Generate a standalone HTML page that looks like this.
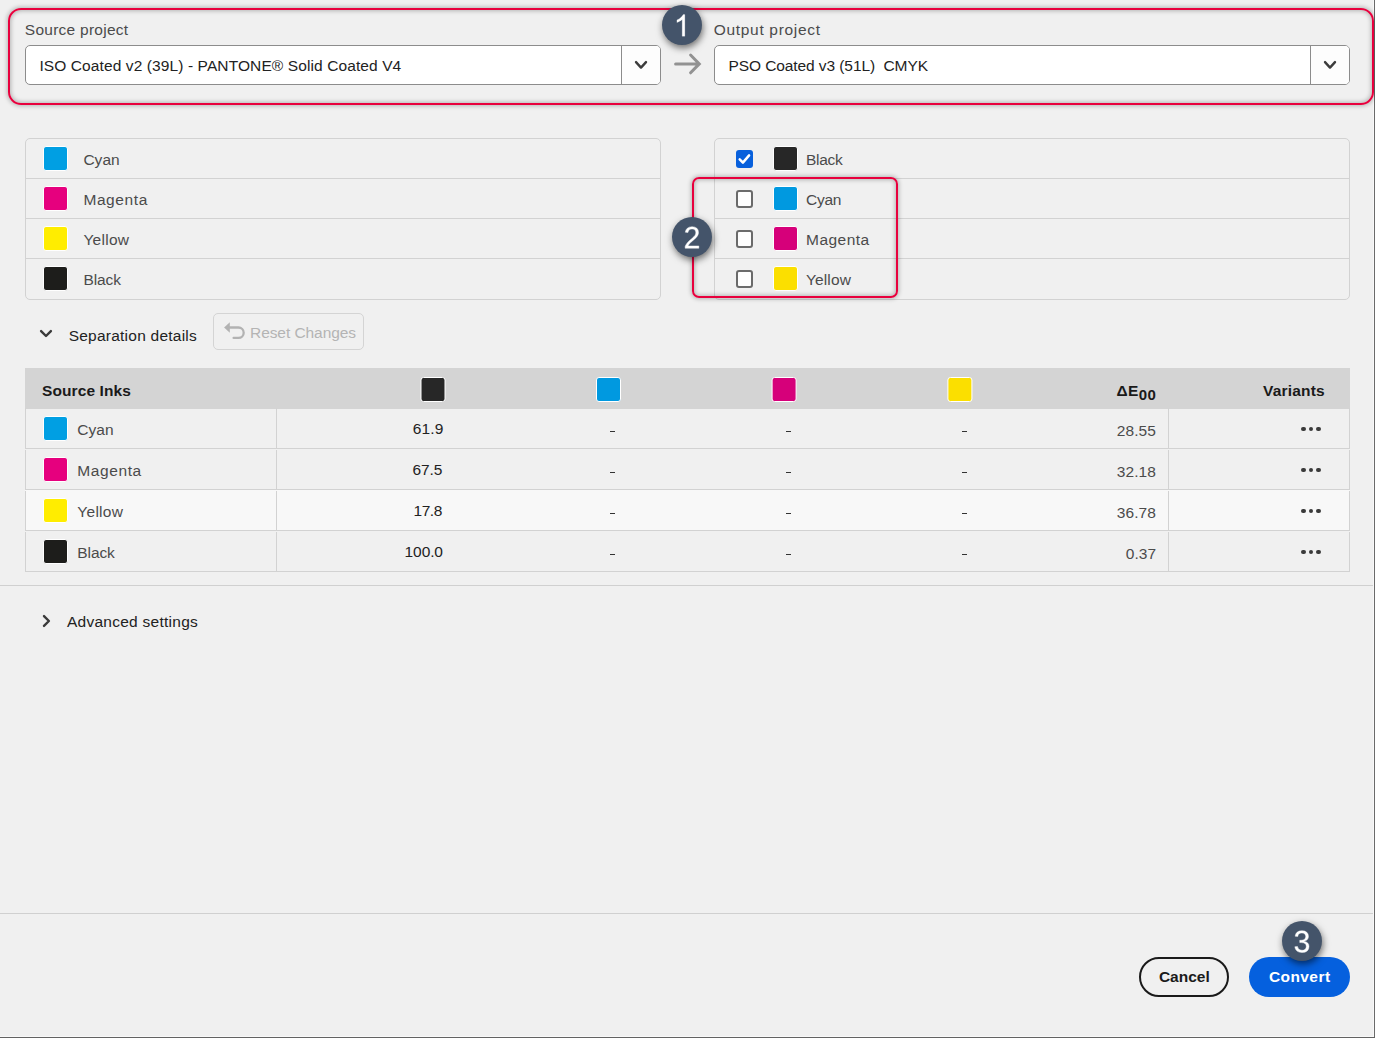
<!DOCTYPE html>
<html><head><meta charset="utf-8"><title>Convert</title>
<style>
*{box-sizing:border-box;margin:0;padding:0}
html,body{width:1375px;height:1038px;overflow:hidden}
body{position:relative;background:#f0f0f0;font-family:"Liberation Sans",sans-serif;}
.a{position:absolute}
.t{position:absolute;white-space:nowrap;line-height:20px;font-family:"Liberation Sans",sans-serif;}
.redbox{position:absolute;border:2px solid #e8003d;box-shadow:0 0 4px 1px rgba(0,0,0,.25), inset 0 0 4px 1px rgba(0,0,0,.25);}
.sel{position:absolute;height:40px;width:636px;top:45px;background:#fff;border:1px solid #8c8c8c;border-radius:5px;}
.sel .dd{position:absolute;right:0;top:0;bottom:0;width:39px;border-left:1px solid #8c8c8c;background:#fdfdfd;border-radius:0 4px 4px 0}
.list{position:absolute;top:138px;width:636px;height:162px;border:1px solid #d2d2d2;border-radius:5px;}
.list .sep{position:absolute;left:0;right:0;height:1px;background:#d2d2d2}
.sw{position:absolute;width:25px;height:25px;border:1px solid #fff;border-radius:3px;}
.cb{position:absolute;width:17px;height:18px;border:2px solid #6a6a6a;border-radius:3px;background:#fdfdfd}
.cb.on{border:0;background:#0860dc}
.badge{position:absolute;width:40px;height:40px;border-radius:50%;background:#44546a;box-shadow:1px 3px 7px rgba(0,0,0,.55);color:#fff;font-size:30px;line-height:40px;text-align:center;font-family:"Liberation Sans",sans-serif;}
.hl{position:absolute;left:0;width:1373px;height:1px;background:#d0d0d0}
.th{position:absolute;left:25px;top:368px;width:1325px;height:41px;background:#d4d4d4}
.row{position:absolute;left:25px;width:1325px;height:41px;border-left:1px solid #d2d2d2;border-right:1px solid #d2d2d2;border-bottom:1px solid #d2d2d2}
.row .v1{position:absolute;left:250px;top:0;bottom:0;width:1px;background:#d2d2d2}
.row .v2{position:absolute;left:1142px;top:0;bottom:0;width:1px;background:#d2d2d2}
.dash{position:absolute;width:5px;height:1.4px;background:#333}
.dots{position:absolute;width:20px;height:4px}
.dots i{position:absolute;top:-0.25px;width:4.5px;height:4.5px;border-radius:50%;background:#3a3a3a}
.btn{position:absolute;top:957px;height:40px;border-radius:20px}
.dg{display:block;width:40px;height:40px;transform-origin:50% 30.2px;transform:translateY(1.6px) scaleY(1.017)}

</style></head>
<body>
<!-- window edges -->
<div class="a" style="left:1373px;top:0;width:1px;height:1037px;background:#f8f8f8"></div>
<div class="a" style="left:1374px;top:0;width:1px;height:1038px;background:#6a6a6a"></div>
<div class="a" style="left:0;top:1036px;width:1374px;height:1px;background:#f8f8f8"></div>
<div class="a" style="left:0;top:1037px;width:1375px;height:1px;background:#626262"></div>

<!-- red box 1 -->
<div class="redbox" style="left:8px;top:8px;width:1366px;height:97px;border-radius:13px"></div>

<!-- selectors -->
<div class="sel" style="left:25px"><div class="dd"></div></div>
<div class="sel" style="left:714px"><div class="dd"></div></div>
<svg class="a" style="left:633px;top:58px" width="16" height="14" viewBox="0 0 16 14"><path d="M3 4.1 L8 9.6 L13 4.1" fill="none" stroke="#3c3c3c" stroke-width="2.4" stroke-linecap="round" stroke-linejoin="round"/></svg>
<svg class="a" style="left:1322px;top:58px" width="16" height="14" viewBox="0 0 16 14"><path d="M3 4.1 L8 9.6 L13 4.1" fill="none" stroke="#3c3c3c" stroke-width="2.4" stroke-linecap="round" stroke-linejoin="round"/></svg>
<!-- arrow -->
<svg class="a" style="left:672px;top:50px" width="32" height="28" viewBox="0 0 32 28"><path d="M3.6 13.9 H26.6 M18.6 5 L27.3 13.9 L18.6 22.8" fill="none" stroke="#929292" stroke-width="3" stroke-linecap="round" stroke-linejoin="miter"/></svg>
<div class="badge" style="left:662px;top:5px"><svg width="40" height="40" viewBox="0 0 40 40" style="display:block"><path transform="translate(11.66,31.2) scale(0.01465,-0.01465)" fill="#fff" stroke="#fff" stroke-width="14" d="M763 0H583V1147Q518 1085 412.5 1023T223 930V1104Q375 1175.5 488.5 1277T650 1474H763Z"/></svg></div>

<!-- left list -->
<div class="list" style="left:25px">
  <div class="sep" style="top:39px"></div><div class="sep" style="top:79px"></div><div class="sep" style="top:119px"></div>
</div>
<div class="sw" style="left:43px;top:146px;background:#009fe3"></div>
<div class="sw" style="left:43px;top:186px;background:#e6007e"></div>
<div class="sw" style="left:43px;top:226px;background:#ffed00"></div>
<div class="sw" style="left:43px;top:266px;background:#1d1d1b"></div>

<!-- right list -->
<div class="list" style="left:714px">
  <div class="sep" style="top:39px"></div><div class="sep" style="top:79px"></div><div class="sep" style="top:119px"></div>
</div>
<div class="cb on" style="left:736px;top:150px"><svg width="17" height="18" viewBox="0 0 17 18" style="display:block"><path d="M3.7 9.4 L6.9 12.6 L13.1 5.4" fill="none" stroke="#fff" stroke-width="2.5" stroke-linecap="round" stroke-linejoin="round"/></svg></div>
<div class="cb" style="left:736px;top:190px"></div>
<div class="cb" style="left:736px;top:230px"></div>
<div class="cb" style="left:736px;top:270px"></div>
<div class="sw" style="left:773px;top:146px;background:#272727"></div>
<div class="sw" style="left:773px;top:186px;background:#0099e0"></div>
<div class="sw" style="left:773px;top:226px;background:#d6007a"></div>
<div class="sw" style="left:773px;top:266px;background:#fbdf00"></div>
<div class="redbox" style="left:692px;top:177px;width:206px;height:121px;border-radius:7px"></div>
<div class="badge" style="left:672px;top:217px"><svg width="40" height="40" viewBox="0 0 40 40" style="display:block"><path transform="translate(11.66,31.25) scale(0.014648,-0.0151)" fill="#fff" stroke="#fff" stroke-width="28" d="M103 0V127Q154 244 227.5 333.5Q301 423 382.0 495.5Q463 568 542.5 630.0Q622 692 686.0 754.0Q750 816 789.5 884.0Q829 952 829 1038Q829 1154 761.0 1218.0Q693 1282 572 1282Q457 1282 382.5 1219.5Q308 1157 295 1044L111 1061Q131 1230 254.5 1330.0Q378 1430 572 1430Q785 1430 899.5 1329.5Q1014 1229 1014 1044Q1014 962 976.5 881.0Q939 800 865.0 719.0Q791 638 582 468Q467 374 399.0 298.5Q331 223 301 153H1036V0Z"/></svg></div>

<!-- separation details -->
<svg class="a" style="left:38px;top:326px" width="16" height="14" viewBox="0 0 16 14"><path d="M3.1 5.1 L8 10 L12.9 5.1" fill="none" stroke="#3a3a3a" stroke-width="2.4" stroke-linecap="round" stroke-linejoin="round"/></svg>
<div class="a" style="left:213px;top:313px;width:151px;height:37px;border:1px solid #d4d4d4;border-radius:5px"></div>
<svg class="a" style="left:222px;top:320px" width="26" height="22" viewBox="0 0 26 22"><path d="M7 7.5 H16.5 A5.2 5.2 0 0 1 16.5 17.9 H11.6" fill="none" stroke="#b2b2b2" stroke-width="2.3" stroke-linecap="round"/><path d="M2.1 7.5 L7.8 2.2 V12.8 Z" fill="#b2b2b2"/></svg>

<!-- table -->
<div class="th"></div>
<div class="row" style="top:408px"><div class="v1"></div><div class="v2"></div></div>
<div class="row" style="top:449px"><div class="v1"></div><div class="v2"></div></div>
<div class="row" style="top:490px;background:#f8f8f8"><div class="v1"></div><div class="v2"></div></div>
<div class="row" style="top:531px"><div class="v1"></div><div class="v2"></div></div>
<div class="sw" style="left:420px;top:377px;width:24.5px;transform:translateX(.5px);background:#272727"></div>
<div class="sw" style="left:596px;top:377px;width:24.5px;background:#0099e0"></div>
<div class="sw" style="left:771px;top:377px;width:24.5px;transform:translateX(.6px);background:#d6007a"></div>
<div class="sw" style="left:947px;top:377px;width:24.5px;transform:translateX(.4px);background:#fbdf00"></div>
<div class="sw" style="left:43px;top:416px;background:#009fe3"></div>
<div class="sw" style="left:43px;top:457px;background:#e6007e"></div>
<div class="sw" style="left:43px;top:498px;background:#ffed00"></div>
<div class="sw" style="left:43px;top:539px;background:#1d1d1b"></div>
<div class="dash" style="left:610.2px;top:430.6px"></div>
<div class="dash" style="left:786.3px;top:430.6px"></div>
<div class="dash" style="left:962.2px;top:430.6px"></div>
<div class="dash" style="left:610.2px;top:471.6px"></div>
<div class="dash" style="left:786.3px;top:471.6px"></div>
<div class="dash" style="left:962.2px;top:471.6px"></div>
<div class="dash" style="left:610.2px;top:512.6px"></div>
<div class="dash" style="left:786.3px;top:512.6px"></div>
<div class="dash" style="left:962.2px;top:512.6px"></div>
<div class="dash" style="left:610.2px;top:553.6px"></div>
<div class="dash" style="left:786.3px;top:553.6px"></div>
<div class="dash" style="left:962.2px;top:553.6px"></div>
<div class="dots" style="left:1301.3px;top:427.2px"><i style="left:0"></i><i style="left:7.4px"></i><i style="left:14.8px"></i></div>
<div class="dots" style="left:1301.3px;top:468.0px"><i style="left:0"></i><i style="left:7.4px"></i><i style="left:14.8px"></i></div>
<div class="dots" style="left:1301.3px;top:509.0px"><i style="left:0"></i><i style="left:7.4px"></i><i style="left:14.8px"></i></div>
<div class="dots" style="left:1301.3px;top:550.0px"><i style="left:0"></i><i style="left:7.4px"></i><i style="left:14.8px"></i></div>


<div class="a" style="left:25px;top:449px;width:1px;height:1px;background:#f0f0f0"></div><div class="a" style="left:276px;top:449px;width:1px;height:1px;background:#f0f0f0"></div><div class="a" style="left:1168px;top:449px;width:1px;height:1px;background:#f0f0f0"></div><div class="a" style="left:1349px;top:449px;width:1px;height:1px;background:#f0f0f0"></div><div class="a" style="left:25px;top:490px;width:1px;height:1px;background:#f8f8f8"></div><div class="a" style="left:276px;top:490px;width:1px;height:1px;background:#f8f8f8"></div><div class="a" style="left:1168px;top:490px;width:1px;height:1px;background:#f8f8f8"></div><div class="a" style="left:1349px;top:490px;width:1px;height:1px;background:#f8f8f8"></div><div class="a" style="left:25px;top:531px;width:1px;height:1px;background:#f0f0f0"></div><div class="a" style="left:276px;top:531px;width:1px;height:1px;background:#f0f0f0"></div><div class="a" style="left:1168px;top:531px;width:1px;height:1px;background:#f0f0f0"></div><div class="a" style="left:1349px;top:531px;width:1px;height:1px;background:#f0f0f0"></div>
<!-- lines -->
<div class="hl" style="top:585px"></div>
<div class="hl" style="top:913px"></div>
<svg class="a" style="left:39px;top:613px" width="16" height="16" viewBox="0 0 16 16"><path d="M5 3.1 L9.9 8 L5 12.9" fill="none" stroke="#3a3a3a" stroke-width="2.4" stroke-linecap="round" stroke-linejoin="round"/></svg>

<!-- buttons -->
<div class="btn" style="left:1139px;width:90px;border:2px solid #1a1a1a"></div>
<div class="btn" style="left:1249px;width:101px;background:#0560de"></div>
<div class="badge" style="left:1282px;top:921px"><svg width="40" height="40" viewBox="0 0 40 40" style="display:block"><path transform="translate(11.66,31.25) scale(0.014648,-0.0151)" fill="#fff" stroke="#fff" stroke-width="28" d="M1049 389Q1049 194 925.0 87.0Q801 -20 571 -20Q357 -20 229.5 76.5Q102 173 78 362L264 379Q300 129 571 129Q707 129 784.5 196.0Q862 263 862 395Q862 510 773.5 574.5Q685 639 518 639H416V795H514Q662 795 743.5 859.5Q825 924 825 1038Q825 1151 758.5 1216.5Q692 1282 561 1282Q442 1282 368.5 1221.0Q295 1160 283 1049L102 1063Q122 1236 245.5 1333.0Q369 1430 563 1430Q775 1430 892.5 1331.5Q1010 1233 1010 1057Q1010 922 934.5 837.5Q859 753 715 723V719Q873 702 961.0 613.0Q1049 524 1049 389Z"/></svg></div>

<span class="t" style="left:24.80px;top:20.00px;font-size:15.5px;font-weight:400;color:#4b4b4b;letter-spacing:0.262px;">Source project</span>
<span class="t" style="left:39.40px;top:56.00px;font-size:15.5px;font-weight:400;color:#222222;letter-spacing:0.104px;">ISO Coated v2 (39L) - PANTONE® Solid Coated V4</span>
<span class="t" style="left:713.80px;top:20.00px;font-size:15.5px;font-weight:400;color:#4b4b4b;letter-spacing:0.677px;">Output project</span>
<span class="t" style="left:728.50px;top:56.00px;font-size:15.5px;font-weight:400;color:#222222;letter-spacing:-0.088px;">PSO Coated v3 (51L)&nbsp; CMYK</span>
<span class="t" style="left:83.40px;top:150.00px;font-size:15.5px;font-weight:400;color:#4b4b4b;letter-spacing:0.033px;">Cyan</span>
<span class="t" style="left:83.40px;top:190.00px;font-size:15.5px;font-weight:400;color:#4b4b4b;letter-spacing:0.600px;">Magenta</span>
<span class="t" style="left:83.40px;top:230.00px;font-size:15.5px;font-weight:400;color:#4b4b4b;letter-spacing:0.280px;">Yellow</span>
<span class="t" style="left:83.40px;top:270.00px;font-size:15.5px;font-weight:400;color:#4b4b4b;letter-spacing:-0.100px;">Black</span>
<span class="t" style="left:806.00px;top:150.00px;font-size:15.5px;font-weight:400;color:#4b4b4b;letter-spacing:-0.300px;">Black</span>
<span class="t" style="left:806.00px;top:190.00px;font-size:15.5px;font-weight:400;color:#4b4b4b;letter-spacing:-0.233px;">Cyan</span>
<span class="t" style="left:806.00px;top:230.00px;font-size:15.5px;font-weight:400;color:#4b4b4b;letter-spacing:0.467px;">Magenta</span>
<span class="t" style="left:806.00px;top:270.00px;font-size:15.5px;font-weight:400;color:#4b4b4b;letter-spacing:0.120px;">Yellow</span>
<span class="t" style="left:68.70px;top:326.00px;font-size:15.5px;font-weight:400;color:#222222;letter-spacing:0.235px;">Separation details</span>
<span class="t" style="left:250.00px;top:323.00px;font-size:15.5px;font-weight:400;color:#b4b4b4;letter-spacing:-0.067px;">Reset Changes</span>
<span class="t" style="left:42.00px;top:381.00px;font-size:15.5px;font-weight:700;color:#1a1a1a;letter-spacing:0.100px;">Source Inks</span>
<span class="t" style="left:1263.10px;top:381.00px;font-size:15.5px;font-weight:700;color:#1a1a1a;letter-spacing:0.186px;">Variants</span>
<span class="t" style="left:1116.50px;top:381.00px;font-size:15.5px;font-weight:700;color:#1a1a1a;letter-spacing:0.400px;">ΔE<span style="font-size:15px;position:relative;top:4px">00</span></span>
<span class="t" style="left:77.30px;top:420.00px;font-size:15.5px;font-weight:400;color:#4b4b4b;letter-spacing:0.033px;">Cyan</span>
<span class="t" style="left:77.30px;top:461.00px;font-size:15.5px;font-weight:400;color:#4b4b4b;letter-spacing:0.600px;">Magenta</span>
<span class="t" style="left:77.30px;top:502.00px;font-size:15.5px;font-weight:400;color:#4b4b4b;letter-spacing:0.280px;">Yellow</span>
<span class="t" style="left:77.30px;top:543.00px;font-size:15.5px;font-weight:400;color:#4b4b4b;letter-spacing:-0.100px;">Black</span>
<span class="t" style="left:412.70px;top:419.00px;font-size:15.5px;font-weight:400;color:#222222;letter-spacing:0.167px;">61.9</span>
<span class="t" style="left:412.50px;top:460.00px;font-size:15.5px;font-weight:400;color:#222222;letter-spacing:-0.100px;">67.5</span>
<span class="t" style="left:413.50px;top:501.00px;font-size:15.5px;font-weight:400;color:#222222;letter-spacing:-0.433px;">17.8</span>
<span class="t" style="left:404.60px;top:542.00px;font-size:15.5px;font-weight:400;color:#222222;letter-spacing:-0.100px;">100.0</span>
<span class="t" style="left:1116.80px;top:421.00px;font-size:15.5px;font-weight:400;color:#4b4b4b;letter-spacing:0.050px;">28.55</span>
<span class="t" style="left:1116.80px;top:462.00px;font-size:15.5px;font-weight:400;color:#4b4b4b;letter-spacing:0.050px;">32.18</span>
<span class="t" style="left:1116.80px;top:503.00px;font-size:15.5px;font-weight:400;color:#4b4b4b;letter-spacing:0.050px;">36.78</span>
<span class="t" style="left:1125.70px;top:544.00px;font-size:15.5px;font-weight:400;color:#4b4b4b;letter-spacing:0.100px;">0.37</span>
<span class="t" style="left:66.90px;top:612.00px;font-size:15.5px;font-weight:400;color:#222222;letter-spacing:0.269px;">Advanced settings</span>
<span class="t" style="left:1158.90px;top:967.00px;font-size:15.5px;font-weight:700;color:#1a1a1a;letter-spacing:0.020px;">Cancel</span>
<span class="t" style="left:1268.90px;top:967.00px;font-size:15.5px;font-weight:700;color:#ffffff;letter-spacing:0.433px;">Convert</span>
</body></html>
